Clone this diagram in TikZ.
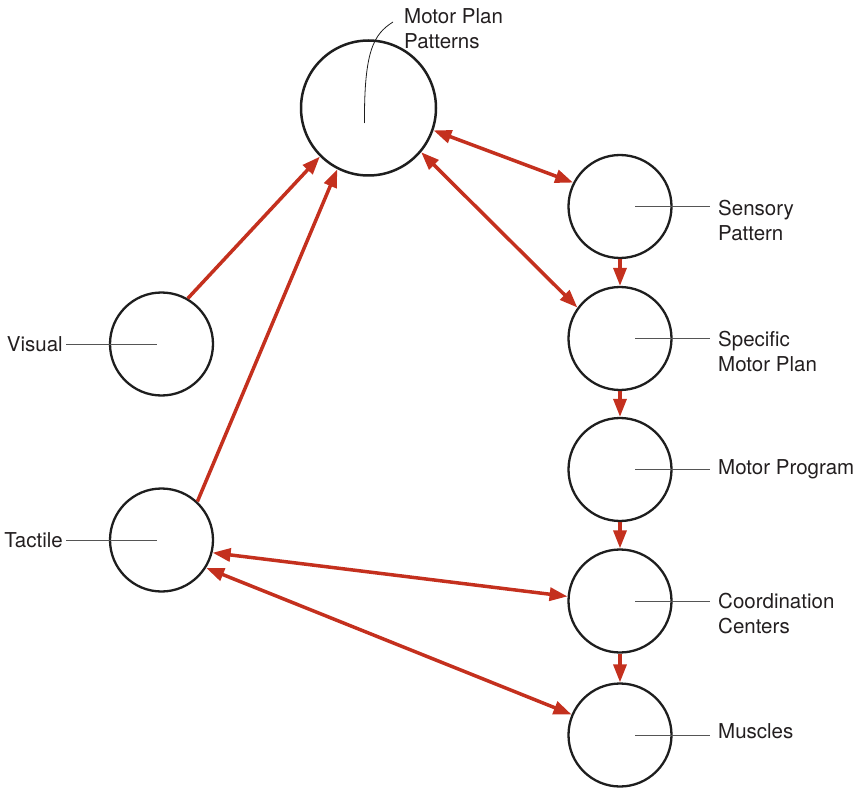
\documentclass[tikz,border=0pt]{standalone}
\usepackage{fontspec}
\setmainfont{TeX Gyre Heros}
\usetikzlibrary{arrows.meta}
\definecolor{arrred}{HTML}{C4301E}
\definecolor{circcol}{HTML}{1E1E1E}
\definecolor{textcol}{HTML}{231F20}
\definecolor{leadcol}{HTML}{555555}
\begin{document}
\begin{tikzpicture}[x=1pt,y=-1pt,
  bigbub/.style={circle, draw=circcol, line width=2.5pt, minimum size=135pt, inner sep=0pt},
  smallbub/.style={circle, draw=circcol, line width=2.3pt, minimum size=103pt, inner sep=0pt},
  lab/.style={font=\fontsize{20.5}{25}\selectfont, align=left, inner sep=0pt, text=textcol},
  lead/.style={draw=leadcol, line width=0.9pt},
  arr/.style={draw=arrred, line width=3.5pt, -{Triangle[length=18pt,width=13pt]}},
  darr/.style={draw=arrred, line width=3.5pt, {Triangle[length=18pt,width=13pt]}-{Triangle[length=18pt,width=13pt]}}
]
\useasboundingbox (0,0) rectangle (855,789);

% circles
\node[bigbub] (mpp) at (368.5,108) {};
\node[smallbub] (sens) at (620,206.5) {};
\node[smallbub] (spec) at (620,338.5) {};
\node[smallbub] (prog) at (620,469.5) {};
\node[smallbub] (coord) at (620,601) {};
\node[smallbub] (musc) at (620,735) {};
\node[smallbub] (vis) at (161.5,344) {};
\node[smallbub] (tact) at (161.5,540) {};

% labels
\node[lab, anchor=west] (mppL) at (404,29) {Motor Plan\\Patterns};
\node[lab, anchor=west] (sensL) at (718,220) {Sensory\\Pattern};
\node[lab, anchor=west] (specL) at (718,351) {Specific\\Motor Plan};
\node[lab, anchor=west] (progL) at (718,469.5) {Motor Program};
\node[lab, anchor=west] (coordL) at (718,613.5) {Coordination\\Centers};
\node[lab, anchor=west] (muscL) at (718,731.5) {Muscles};
\node[lab, anchor=east] (visL) at (63,344) {Visual};
\node[lab, anchor=east] (tactL) at (63,540) {Tactile};

% leader lines
\draw[lead] ([xshift=15pt]sens.center) -- ([xshift=90pt]sens.center);
\draw[lead] ([xshift=15pt]spec.center) -- ([xshift=90pt]spec.center);
\draw[lead] ([xshift=15pt]prog.center) -- ([xshift=90pt]prog.center);
\draw[lead] ([xshift=15pt]coord.center) -- ([xshift=90pt]coord.center);
\draw[lead] ([xshift=15pt]musc.center) -- ([xshift=90pt]musc.center);
\draw[lead] ([xshift=-5pt]vis.center) -- ([xshift=-96pt]vis.center);
\draw[lead] ([xshift=-5pt]tact.center) -- ([xshift=-96pt]tact.center);
\coordinate (mppTip) at (393,22);
\draw[draw=circcol, line width=0.8pt] ([shift={(-4pt,-15pt)}]mpp.center) .. controls (364,50) and (374,34) .. (mppTip);

% arrows
\draw[arr] (vis.60) -- (mpp.-135);
\draw[arr] (tact.47) -- (mpp.-117);
\draw[darr] (mpp.-19) -- (sens.153);
\draw[darr] (mpp.-40) -- (spec.144);
\draw[arr] (sens.south) -- (spec.north);
\draw[arr] (spec.south) -- (prog.north);
\draw[arr] (prog.south) -- (coord.north);
\draw[arr] (coord.south) -- (musc.north);
\draw[darr] (tact.-14) -- (coord.175.5);
\draw[darr] (tact.-32.5) -- (musc.157.4);
\end{tikzpicture}
\end{document}
